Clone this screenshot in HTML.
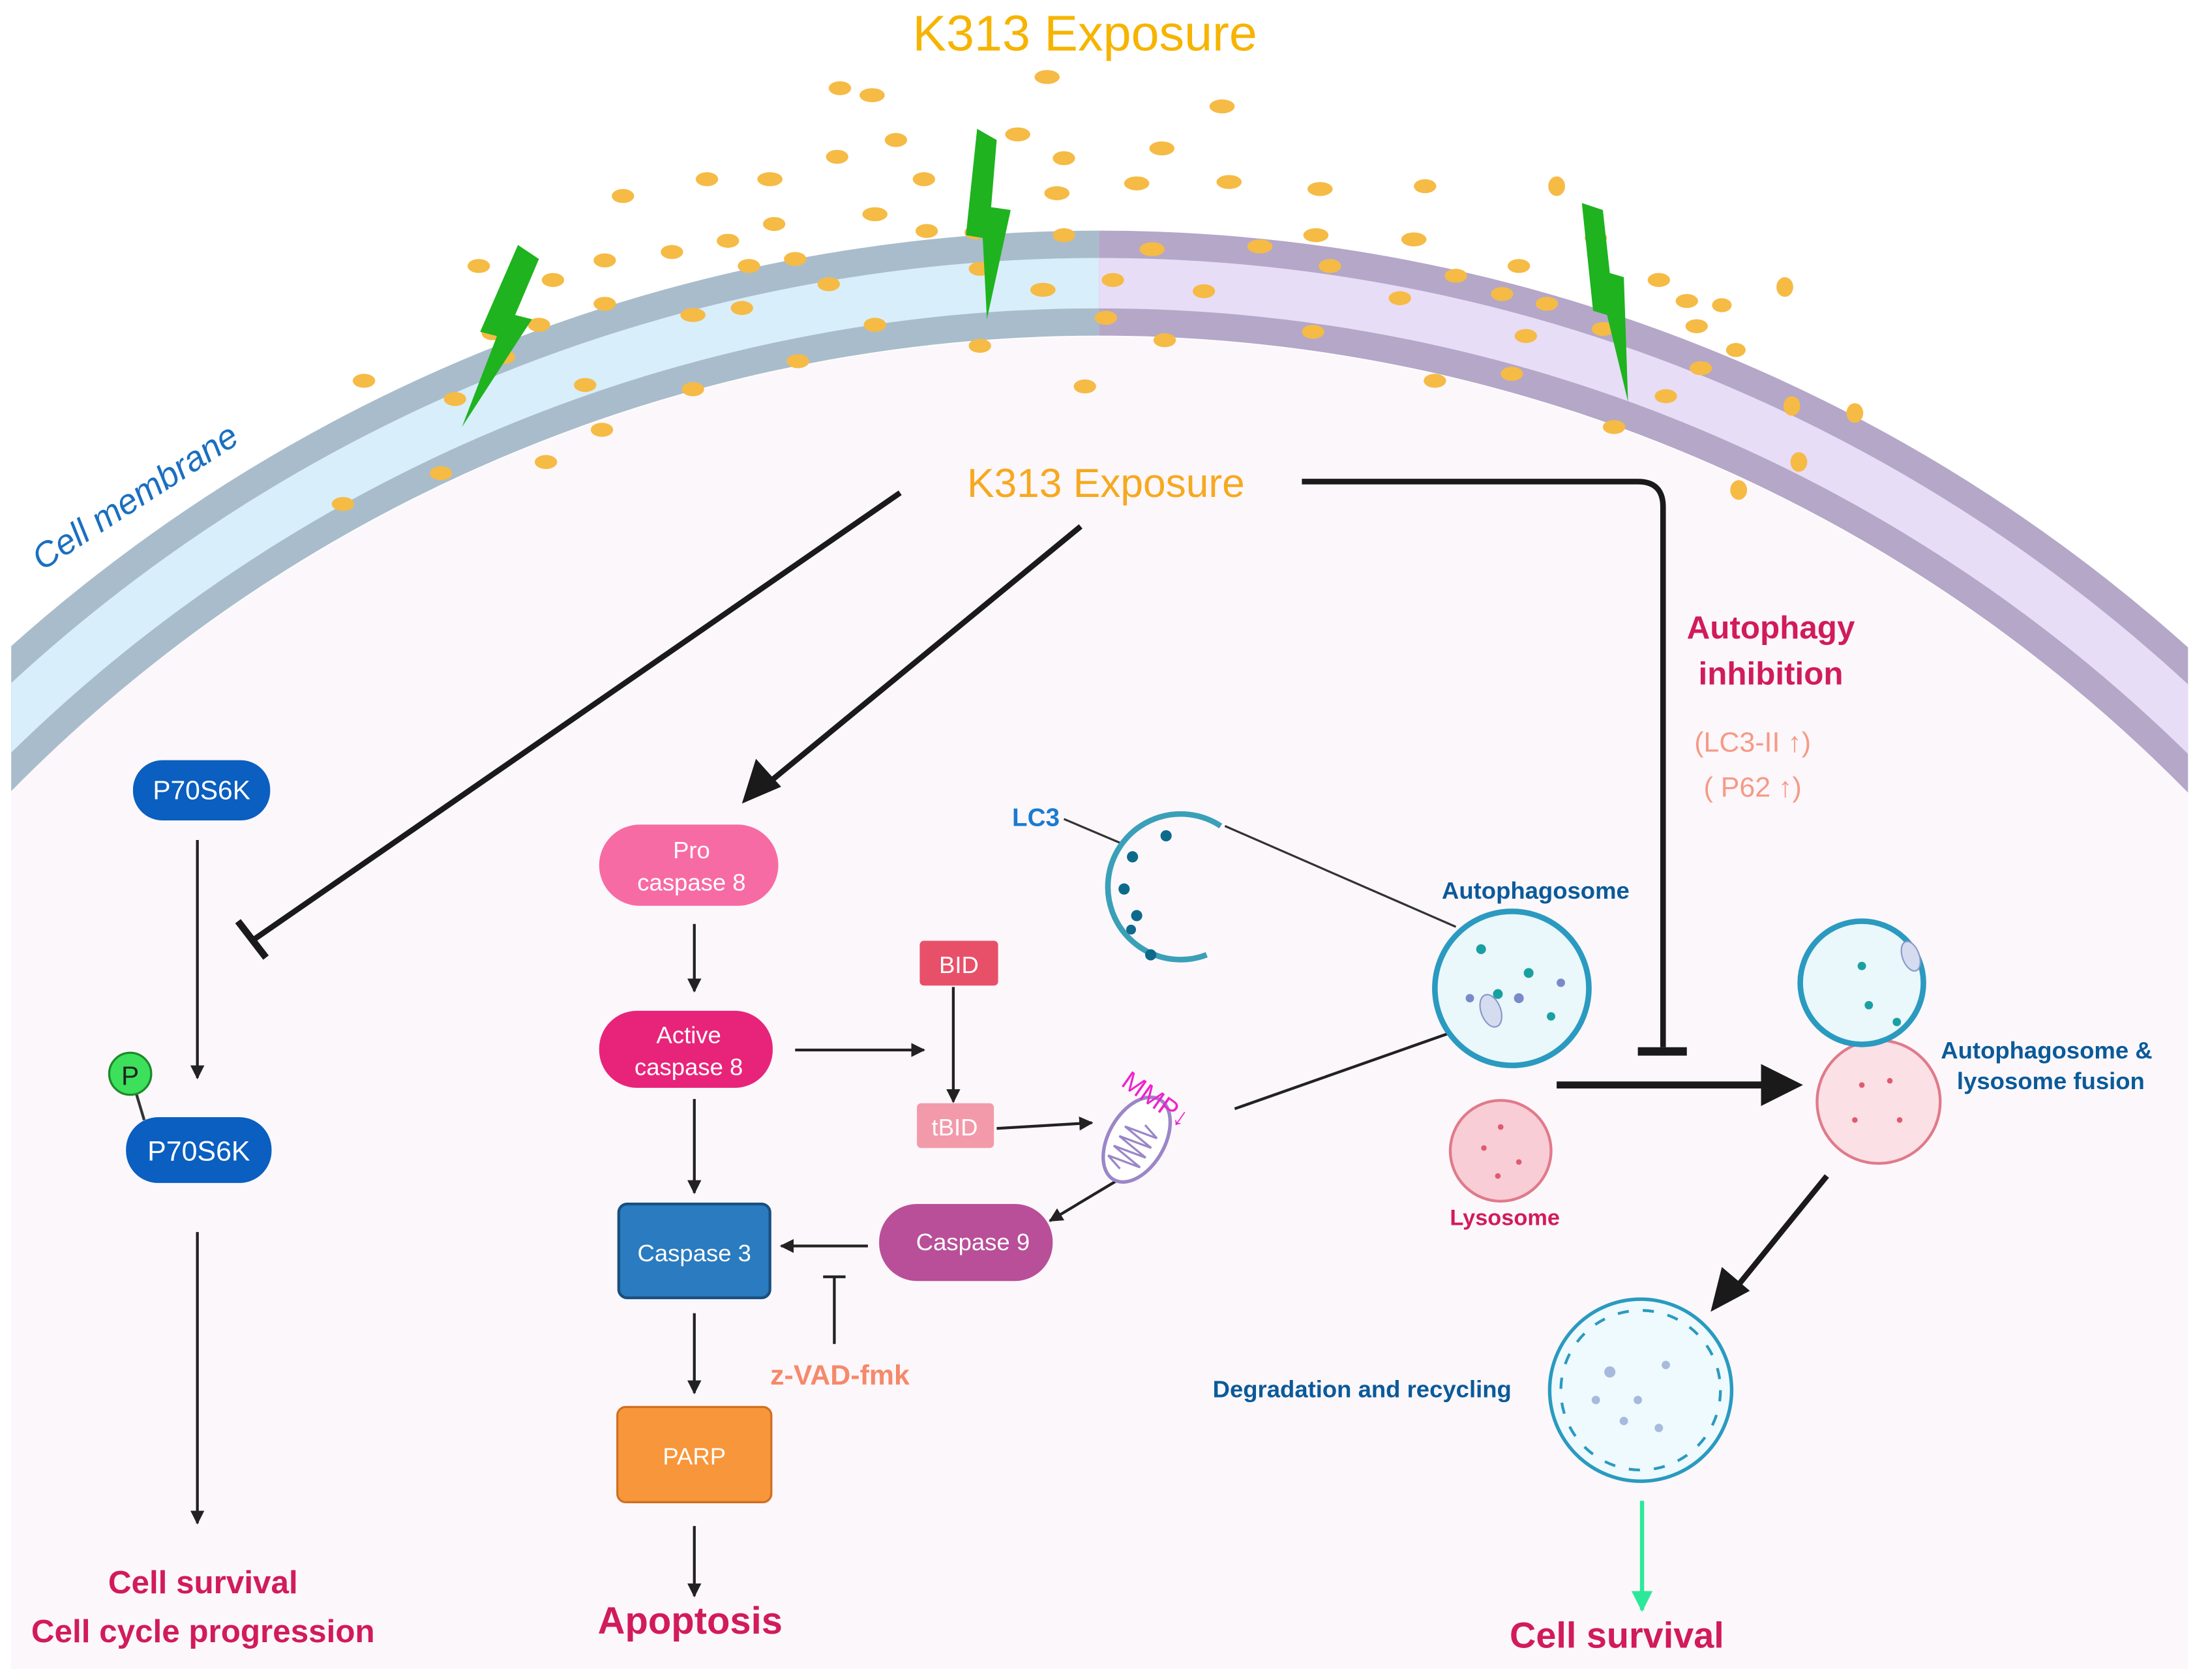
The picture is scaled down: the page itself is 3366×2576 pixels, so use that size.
<!DOCTYPE html>
<html><head><meta charset="utf-8"><style>
html,body{margin:0;padding:0;background:#fff;width:3366px;height:2576px;overflow:hidden}
svg{display:block}
text{font-family:"Liberation Sans",sans-serif}
</style></head><body>
<svg width="3366" height="2576" viewBox="0 0 1568 1200" preserveAspectRatio="none" xmlns="http://www.w3.org/2000/svg">
<defs>
<clipPath id="L"><rect x="8" y="0" width="777" height="1192"/></clipPath>
<clipPath id="R"><rect x="785" y="0" width="778" height="1192"/></clipPath>
<marker id="a" viewBox="0 0 10 10" refX="9" refY="5" markerWidth="5" markerHeight="5" orient="auto"><path d="M0,0L10,5L0,10z" fill="#222"/></marker>
<marker id="g" viewBox="0 0 10 10" refX="9" refY="5" markerWidth="5" markerHeight="5" orient="auto"><path d="M0,0L10,5L0,10z" fill="#2ee89a"/></marker>
</defs>
<rect width="1568" height="1200" fill="#fff"/>
<rect x="8" y="470" width="1555" height="722" fill="#fcf7fb"/>
<path d="M8,566 A1090,1090 0 0 1 1562,566 V1192 H8 Z" fill="#fcf7fb"/>
<g clip-path="url(#L)">
<path d="M-40,561 A1128,1128 0 0 1 1610,561" fill="none" stroke="#a9bccb" stroke-width="75"/>
<path d="M-40,561 A1128,1128 0 0 1 1610,561" fill="none" stroke="#d8eefa" stroke-width="36"/>
</g>
<g clip-path="url(#R)">
<path d="M-40,561 A1128,1128 0 0 1 1610,561" fill="none" stroke="#b4a7c8" stroke-width="75"/>
<path d="M-40,561 A1128,1128 0 0 1 1610,561" fill="none" stroke="#e7ddf6" stroke-width="36"/>
</g>
<g fill="#f5bb45">
<ellipse cx="600" cy="63" rx="8" ry="5"/><ellipse cx="623" cy="68" rx="9" ry="5"/><ellipse cx="748" cy="55" rx="9" ry="5"/><ellipse cx="873" cy="76" rx="9" ry="5"/><ellipse cx="640" cy="100" rx="8" ry="5"/><ellipse cx="727" cy="96" rx="9" ry="5"/><ellipse cx="830" cy="106" rx="9" ry="5"/><ellipse cx="760" cy="113" rx="8" ry="5"/><ellipse cx="598" cy="112" rx="8" ry="5"/><ellipse cx="505" cy="128" rx="8" ry="5"/><ellipse cx="550" cy="128" rx="9" ry="5"/><ellipse cx="445" cy="140" rx="8" ry="5"/><ellipse cx="660" cy="128" rx="8" ry="5"/><ellipse cx="755" cy="138" rx="9" ry="5"/><ellipse cx="812" cy="131" rx="9" ry="5"/><ellipse cx="878" cy="130" rx="9" ry="5"/><ellipse cx="943" cy="135" rx="9" ry="5"/><ellipse cx="1018" cy="133" rx="8" ry="5"/><ellipse cx="1112" cy="133" rx="6" ry="7"/><ellipse cx="625" cy="153" rx="9" ry="5"/><ellipse cx="553" cy="160" rx="8" ry="5"/><ellipse cx="520" cy="172" rx="8" ry="5"/><ellipse cx="480" cy="180" rx="8" ry="5"/><ellipse cx="432" cy="186" rx="8" ry="5"/><ellipse cx="342" cy="190" rx="8" ry="5"/><ellipse cx="568" cy="185" rx="8" ry="5"/><ellipse cx="662" cy="165" rx="8" ry="5"/><ellipse cx="697" cy="166" rx="8" ry="5"/><ellipse cx="760" cy="168" rx="8" ry="5"/><ellipse cx="823" cy="178" rx="9" ry="5"/><ellipse cx="900" cy="176" rx="9" ry="5"/><ellipse cx="940" cy="168" rx="9" ry="5"/><ellipse cx="1010" cy="171" rx="9" ry="5"/><ellipse cx="1085" cy="190" rx="8" ry="5"/><ellipse cx="1140" cy="170" rx="8" ry="5"/><ellipse cx="1185" cy="200" rx="8" ry="5"/><ellipse cx="1205" cy="215" rx="8" ry="5"/><ellipse cx="1230" cy="218" rx="7" ry="5"/><ellipse cx="1275" cy="205" rx="6" ry="7"/><ellipse cx="535" cy="190" rx="8" ry="5"/><ellipse cx="592" cy="203" rx="8" ry="5"/><ellipse cx="700" cy="192" rx="8" ry="5"/><ellipse cx="745" cy="207" rx="9" ry="5"/><ellipse cx="795" cy="200" rx="8" ry="5"/><ellipse cx="860" cy="208" rx="8" ry="5"/><ellipse cx="950" cy="190" rx="8" ry="5"/><ellipse cx="1040" cy="197" rx="8" ry="5"/><ellipse cx="1073" cy="210" rx="8" ry="5"/><ellipse cx="1105" cy="217" rx="8" ry="5"/><ellipse cx="1145" cy="235" rx="8" ry="5"/><ellipse cx="1212" cy="233" rx="8" ry="5"/><ellipse cx="1240" cy="250" rx="7" ry="5"/><ellipse cx="395" cy="200" rx="8" ry="5"/><ellipse cx="432" cy="217" rx="8" ry="5"/><ellipse cx="385" cy="232" rx="8" ry="5"/><ellipse cx="352" cy="238" rx="8" ry="5"/><ellipse cx="495" cy="225" rx="9" ry="5"/><ellipse cx="530" cy="220" rx="8" ry="5"/><ellipse cx="625" cy="232" rx="8" ry="5"/><ellipse cx="700" cy="247" rx="8" ry="5"/><ellipse cx="790" cy="227" rx="8" ry="5"/><ellipse cx="832" cy="243" rx="8" ry="5"/><ellipse cx="938" cy="237" rx="8" ry="5"/><ellipse cx="1000" cy="213" rx="8" ry="5"/><ellipse cx="1090" cy="240" rx="8" ry="5"/><ellipse cx="1215" cy="263" rx="8" ry="5"/><ellipse cx="260" cy="272" rx="8" ry="5"/><ellipse cx="360" cy="255" rx="8" ry="5"/><ellipse cx="418" cy="275" rx="8" ry="5"/><ellipse cx="495" cy="278" rx="8" ry="5"/><ellipse cx="570" cy="258" rx="8" ry="5"/><ellipse cx="775" cy="276" rx="8" ry="5"/><ellipse cx="1025" cy="272" rx="8" ry="5"/><ellipse cx="1080" cy="267" rx="8" ry="5"/><ellipse cx="1190" cy="283" rx="8" ry="5"/><ellipse cx="1280" cy="290" rx="6" ry="7"/><ellipse cx="1325" cy="295" rx="6" ry="7"/><ellipse cx="325" cy="285" rx="8" ry="5"/><ellipse cx="430" cy="307" rx="8" ry="5"/><ellipse cx="315" cy="338" rx="8" ry="5"/><ellipse cx="390" cy="330" rx="8" ry="5"/><ellipse cx="245" cy="360" rx="8" ry="5"/><ellipse cx="1153" cy="305" rx="8" ry="5"/><ellipse cx="1285" cy="330" rx="6" ry="7"/><ellipse cx="1242" cy="350" rx="6" ry="7"/>
</g>
<g fill="#1fb31f">
<polygon points="370,175 385,185 368,225 380,228 330,305 355,240 343,237"/>
<polygon points="698,92 712,100 708,148 722,150 705,228 702,170 690,168"/>
<polygon points="1130,145 1145,150 1150,195 1160,198 1163,287 1148,225 1138,222"/>
</g>
<text x="775" y="36" font-size="36" fill="#f6b400" text-anchor="middle">K313 Exposure</text>
<text transform="translate(30,408) rotate(-33)" font-size="25" fill="#1a6fc0" font-style="italic">Cell membrane</text>
<text x="790" y="355" font-size="29" fill="#f6a91f" text-anchor="middle">K313 Exposure</text>
<g stroke="#1a1a1a" fill="none">
<line x1="643" y1="352" x2="180" y2="672" stroke-width="4"/>
<line x1="170" y1="658" x2="190" y2="684" stroke-width="5"/>
<line x1="772" y1="376" x2="548" y2="560" stroke-width="4"/>
<path d="M930,344 H1170 Q1188,344 1188,362 V748" stroke-width="4"/>
<line x1="1170" y1="751" x2="1205" y2="751" stroke-width="6"/>
<line x1="1112" y1="775" x2="1262" y2="775" stroke-width="5"/>
<line x1="1305" y1="840" x2="1240" y2="920" stroke-width="4"/>
</g>
<polygon points="530,574 540,542 558,562" fill="#1a1a1a"/>
<polygon points="1288,775 1258,760 1258,790" fill="#1a1a1a"/>
<polygon points="1222,937 1230,905 1250,922" fill="#1a1a1a"/>
<g stroke="#222" stroke-width="2" fill="none" marker-end="url(#a)">
<line x1="141" y1="600" x2="141" y2="770"/>
<line x1="141" y1="880" x2="141" y2="1088"/>
<line x1="496" y1="660" x2="496" y2="708"/>
<line x1="568" y1="750" x2="660" y2="750"/>
<line x1="681" y1="705" x2="681" y2="787"/>
<line x1="712" y1="806" x2="780" y2="802"/>
<line x1="800" y1="842" x2="750" y2="872"/>
<line x1="620" y1="890" x2="558" y2="890"/>
<line x1="496" y1="785" x2="496" y2="852"/>
<line x1="496" y1="938" x2="496" y2="995"/>
<line x1="496" y1="1090" x2="496" y2="1140"/>
</g>
<line x1="596" y1="960" x2="596" y2="912" stroke="#222" stroke-width="2"/>
<line x1="588" y1="912" x2="604" y2="912" stroke="#222" stroke-width="2"/>
<line x1="1173" y1="1072" x2="1173" y2="1150" stroke="#2ee89a" stroke-width="3" marker-end="url(#g)"/>
<rect x="95" y="543" width="98" height="43" rx="21" fill="#0a5fc0"/>
<text x="144" y="571" font-size="19" fill="#fff" text-anchor="middle">P70S6K</text>
<rect x="90" y="798" width="104" height="47" rx="23" fill="#0a5fc0"/>
<text x="142" y="829" font-size="20" fill="#fff" text-anchor="middle">P70S6K</text>
<line x1="97" y1="780" x2="103" y2="800" stroke="#333" stroke-width="2"/>
<circle cx="93" cy="767" r="15" fill="#3de05a" stroke="#1a8a2a" stroke-width="1.5"/>
<text x="93" y="775" font-size="19" fill="#222" text-anchor="middle">P</text>
<text x="145" y="1138" font-size="23" font-weight="bold" fill="#d11b5a" text-anchor="middle">Cell survival</text>
<text x="145" y="1173" font-size="23" font-weight="bold" fill="#d11b5a" text-anchor="middle">Cell cycle  progression</text>
<rect x="428" y="589" width="128" height="58" rx="29" fill="#f76ba4"/>
<text x="494" y="613" font-size="17" fill="#fff" text-anchor="middle">Pro</text>
<text x="494" y="636" font-size="17" fill="#fff" text-anchor="middle">caspase 8</text>
<rect x="428" y="722" width="124" height="55" rx="27" fill="#e8247a"/>
<text x="492" y="745" font-size="17" fill="#fff" text-anchor="middle">Active</text>
<text x="492" y="768" font-size="17" fill="#fff" text-anchor="middle">caspase 8</text>
<rect x="657" y="672" width="56" height="32" rx="3" fill="#e8506a"/>
<text x="685" y="695" font-size="17" fill="#fff" text-anchor="middle">BID</text>
<rect x="655" y="788" width="55" height="32" rx="3" fill="#f29aaa"/>
<text x="682" y="811" font-size="17" fill="#fff" text-anchor="middle">tBID</text>
<g transform="translate(812,814) rotate(-60)">
<ellipse rx="33" ry="20" fill="#fff" stroke="#9a86c8" stroke-width="2.5"/>
<path d="M-24,0 l4,-12 l4,24 l4,-24 l4,24 l4,-24 l4,24 l4,-24 l4,24 l4,-12" fill="none" stroke="#9a86c8" stroke-width="1.5"/>
</g>
<text transform="translate(800,775) rotate(35)" font-size="19" fill="#ee22cc">MMP↓</text>
<rect x="628" y="860" width="124" height="55" rx="27" fill="#b84f98"/>
<text x="695" y="893" font-size="17" fill="#fff" text-anchor="middle">Caspase 9</text>
<rect x="442" y="860" width="108" height="67" rx="6" fill="#2a7bbf" stroke="#1a4f80" stroke-width="2"/>
<text x="496" y="901" font-size="17" fill="#fff" text-anchor="middle">Caspase 3</text>
<text x="600" y="989" font-size="20" font-weight="bold" fill="#f5896a" text-anchor="middle">z-VAD-fmk</text>
<rect x="441" y="1005" width="110" height="68" rx="6" fill="#f7963a" stroke="#d07020" stroke-width="1.5"/>
<text x="496" y="1046" font-size="17" fill="#fff" text-anchor="middle">PARP</text>
<text x="493" y="1167" font-size="27" font-weight="bold" fill="#d11b5a" text-anchor="middle">Apoptosis</text>
<text x="740" y="590" font-size="18" font-weight="bold" fill="#1a7bd0" text-anchor="middle">LC3</text>
<line x1="760" y1="585" x2="800" y2="602" stroke="#333" stroke-width="1.5"/>
<path d="M872,590 A52,52 0 1 0 862,682" fill="none" stroke="#3aa0b8" stroke-width="4"/>
<g fill="#0e6a8a"><circle cx="833" cy="597" r="4"/><circle cx="809" cy="612" r="4"/><circle cx="803" cy="635" r="4"/><circle cx="812" cy="654" r="4"/><circle cx="808" cy="664" r="3.5"/><circle cx="822" cy="682" r="4"/></g>
<line x1="875" y1="590" x2="1040" y2="662" stroke="#333" stroke-width="1.5"/>
<line x1="882" y1="792" x2="1058" y2="730" stroke="#222" stroke-width="2"/>
<text x="1097" y="642" font-size="17" font-weight="bold" fill="#0a5a9a" text-anchor="middle">Autophagosome</text>
<circle cx="1080" cy="706" r="55" fill="#eaf7fb" stroke="#2a9ac0" stroke-width="4"/>
<g fill="#1aa0a0"><circle cx="1058" cy="678" r="3.5"/><circle cx="1092" cy="695" r="3.5"/><circle cx="1070" cy="710" r="3.5"/><circle cx="1108" cy="726" r="3"/></g>
<g fill="#7a8ac8"><circle cx="1085" cy="713" r="3.5"/><circle cx="1050" cy="713" r="3"/><circle cx="1115" cy="702" r="3"/></g>
<ellipse cx="1065" cy="722" rx="7" ry="12" fill="#d6dcf0" stroke="#8898c8" transform="rotate(-20 1065 722)"/>
<circle cx="1072" cy="822" r="36" fill="#f8cdd5" stroke="#e07a8a" stroke-width="2"/>
<g fill="#e05a70"><circle cx="1072" cy="805" r="2"/><circle cx="1060" cy="820" r="2"/><circle cx="1085" cy="830" r="2"/><circle cx="1070" cy="840" r="2"/></g>
<text x="1075" y="875" font-size="16" font-weight="bold" fill="#d11b5a" text-anchor="middle">Lysosome</text>
<circle cx="1342" cy="787" r="44" fill="#fbe0e6" stroke="#e07a8a" stroke-width="2"/>
<circle cx="1330" cy="702" r="44" fill="#eaf7fb" stroke="#2a9ac0" stroke-width="4"/>
<ellipse cx="1365" cy="683" rx="6" ry="11" fill="#d6dcf0" stroke="#8898c8" transform="rotate(-20 1365 683)"/>
<g fill="#1aa0a0"><circle cx="1330" cy="690" r="3"/><circle cx="1335" cy="718" r="3"/><circle cx="1355" cy="730" r="3"/></g>
<g fill="#e05a70"><circle cx="1330" cy="775" r="2"/><circle cx="1350" cy="772" r="2"/><circle cx="1325" cy="800" r="2"/><circle cx="1357" cy="800" r="2"/></g>
<text x="1462" y="756" font-size="17" font-weight="bold" fill="#0a5a9a" text-anchor="middle">Autophagosome &amp;</text>
<text x="1465" y="778" font-size="17" font-weight="bold" fill="#0a5a9a" text-anchor="middle">lysosome fusion</text>
<circle cx="1172" cy="993" r="65" fill="#eefafd" stroke="#2a9ac0" stroke-width="2.5"/>
<circle cx="1172" cy="993" r="57" fill="none" stroke="#2a9ac0" stroke-width="2" stroke-dasharray="8 10"/>
<g fill="#8aa0d0" opacity="0.7"><circle cx="1150" cy="980" r="4"/><circle cx="1170" cy="1000" r="3"/><circle cx="1190" cy="975" r="3"/><circle cx="1160" cy="1015" r="3"/><circle cx="1185" cy="1020" r="3"/><circle cx="1140" cy="1000" r="3"/></g>
<text x="973" y="998" font-size="17" font-weight="bold" fill="#0a5a9a" text-anchor="middle">Degradation and recycling</text>
<text x="1155" y="1177" font-size="26" font-weight="bold" fill="#d11b5a" text-anchor="middle">Cell survival</text>
<text x="1265" y="456" font-size="23" font-weight="bold" fill="#d11b5a" text-anchor="middle">Autophagy</text>
<text x="1265" y="489" font-size="23" font-weight="bold" fill="#d11b5a" text-anchor="middle">inhibition</text>
<text x="1252" y="537" font-size="20" fill="#f59a86" text-anchor="middle">(LC3-II  ↑)</text>
<text x="1252" y="569" font-size="20" fill="#f59a86" text-anchor="middle">( P62    ↑)</text>
</svg>
</body></html>
